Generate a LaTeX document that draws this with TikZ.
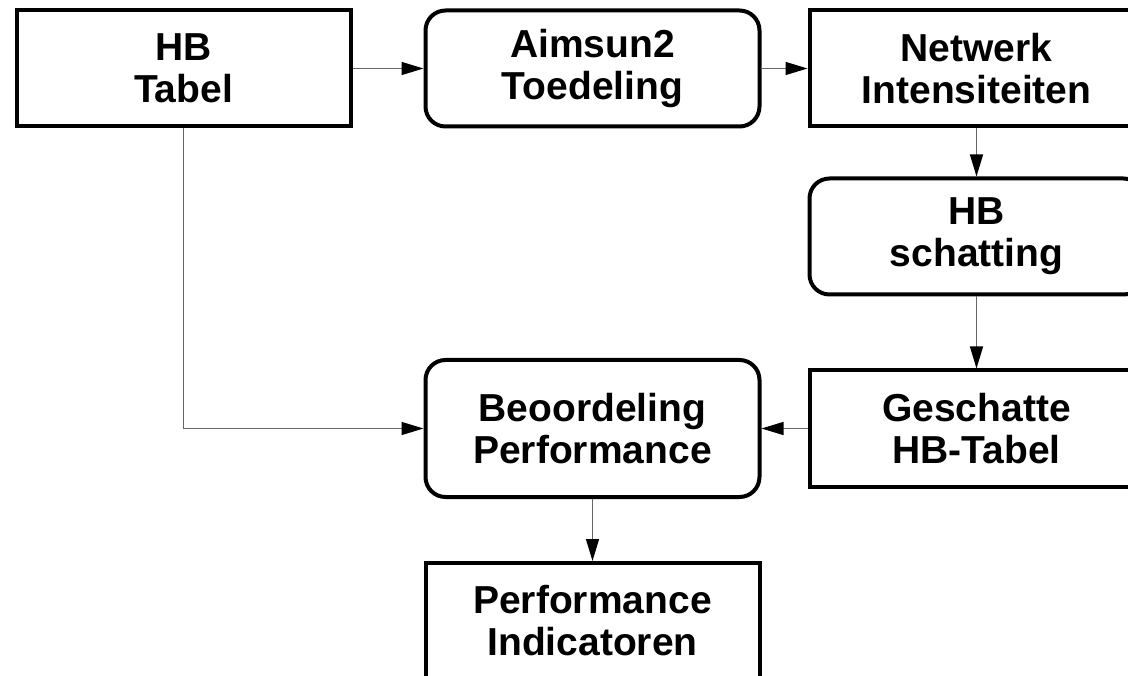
\documentclass[tikz,border=0pt]{standalone}
\usepackage{fontspec}
\setmainfont{Liberation Sans}
\usetikzlibrary{arrows.meta,positioning}
\tikzset{>={Triangle[length=22pt,width=13pt,color=black,fill=black]},node distance=46pt}
\tikzset{box/.style={draw,line width=4pt,minimum width=334pt,minimum height=116pt,
        inner sep=0pt,align=center,font=\fontsize{39}{42}\selectfont\bfseries}}
\tikzset{roundbox/.style={box,rounded corners=20pt}}
\tikzset{flow/.style={->,draw=black!60,line width=1.3pt}}

\begin{document}
\begin{tikzpicture}[x=1pt,y=1pt]
                \clip (0,0) rectangle (1128,-676);
                \node[box] (hb) at (183.5,-68.5) {HB\\Tabel};
                \node[roundbox] (aimsun) [right=71pt of hb] {Aimsun2\\Toedeling};
                \node[box] (netwerk) [right=of aimsun] {Netwerk\\Intensiteiten};
                \node[roundbox] (schatting) [below=48pt of netwerk] {HB\\schatting};
                \node[box] (geschatte) [below=72pt of schatting] {Geschatte\\HB-Tabel};
                \node[roundbox,minimum height=137pt] (beoordeling) [left=of geschatte] {Beoordeling\\Performance};
                \node[box] (indicatoren) [below=62pt of beoordeling] {Performance\\Indicatoren};
                \path[flow]
                        (hb) edge (aimsun)
                        (aimsun) edge (netwerk)
                        (netwerk) edge (schatting)
                        (schatting) edge (geschatte)
                        (geschatte) edge (beoordeling)
                        (hb) edge [to path={|- (\tikztotarget)}] (beoordeling)
                        (beoordeling) edge (indicatoren)
                ;
\end{tikzpicture}
\end{document}
